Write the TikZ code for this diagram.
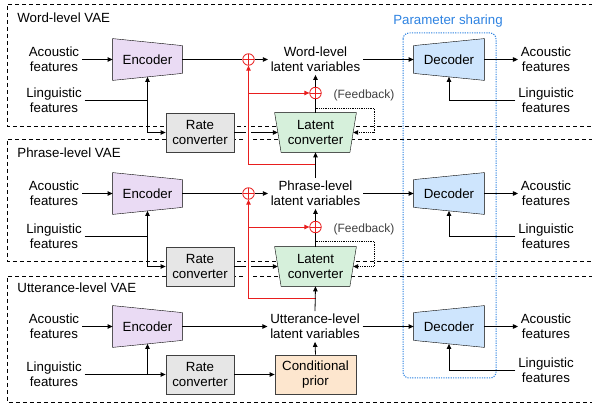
\documentclass[tikz,border=0pt]{standalone}
\usepackage{fontspec}
\setmainfont{Liberation Sans}
\usetikzlibrary{positioning,arrows.meta,backgrounds}

\definecolor{encfill}{RGB}{234,219,244}
\definecolor{decfill}{RGB}{206,229,253}
\definecolor{lcfill}{RGB}{214,240,219}
\definecolor{rcfill}{RGB}{230,230,230}
\definecolor{cpfill}{RGB}{253,230,206}
\definecolor{resred}{RGB}{232,30,30}
\definecolor{shareblue}{RGB}{45,130,225}

% trapezoid outlines, drawn behind the node text
\newcommand{\encpoly}[1]{\begin{scope}[on background layer]
  \filldraw[fill=encfill] (#1.north west) -- ([yshift=-7pt]#1.north east) -- ([yshift=7pt]#1.south east) -- (#1.south west) -- cycle;
\end{scope}}
\newcommand{\decpoly}[1]{\begin{scope}[on background layer]
  \filldraw[fill=decfill] ([yshift=-7pt]#1.north west) -- (#1.north east) -- (#1.south east) -- ([yshift=7pt]#1.south west) -- cycle;
\end{scope}}
\newcommand{\lcpoly}[1]{\begin{scope}[on background layer]
  \filldraw[fill=lcfill] (#1.north west) -- (#1.north east) -- ([xshift=-6.5pt]#1.south east) -- ([xshift=6.5pt]#1.south west) -- cycle;
\end{scope}}

\begin{document}
\begin{tikzpicture}[x=1pt,y=-1pt,on grid,font=\fontsize{13.3}{15.3}\selectfont,line width=0.8pt,
    >={Triangle[length=5pt,width=4.5pt]},
    txt/.style={align=center,inner sep=2.5pt},
    enc/.style={minimum width=69pt,minimum height=41pt,inner sep=0pt},
    dec/.style={minimum width=70pt,minimum height=41pt,inner sep=0pt},
    latent/.style={minimum width=81pt,minimum height=39pt,inner sep=0pt,align=center},
    rate/.style={draw=black!75,fill=rcfill,minimum width=68pt,minimum height=39pt,inner sep=0pt,align=center},
    prior/.style={draw=black!75,fill=cpfill,minimum width=81pt,minimum height=39pt,inner sep=0pt,align=center},
    plus/.style={circle,draw=resred,minimum size=11.5pt,inner sep=0pt,
      path picture={\draw[resred] (path picture bounding box.north) -- (path picture bounding box.south)
        (path picture bounding box.west) -- (path picture bounding box.east);}},
    resid/.style={draw=resred,->},
    feedback/.style={dash pattern=on 0.8pt off 1pt,line width=0.6pt,->},
    vae/.style={dash pattern=on 4pt off 3pt},
    share/.style={draw=shareblue,dash pattern=on 1.2pt off 1.2pt,line width=1pt,rounded corners=6pt}]
    \useasboundingbox (0,0) rectangle (592,403);
    \begin{scope}[on background layer]
        \draw[vae] (600,4) -| (7,126) -- (600,126);
        \draw[vae] (600,139) -| (7,261) -- (600,261);
        \draw[vae] (600,276) -| (7,402) -- (600,402);
    \end{scope}
    \draw[share] (403,33) rectangle (496,378);
    \node[text=shareblue] (psl) at (448,21) {Parameter sharing};

    % word level
    \node[anchor=west,inner sep=0pt] (t1) at (17,18) {Word-level VAE};
    \node[enc] (e1) at (147.5,59.5) {Encoder}; \encpoly{e1}
    \node[txt] (a1) [left=93.5pt of e1] {Acoustic\\features};
    \node[txt] (l1) [below=41pt of a1] {Linguistic\\features};
    \node[plus] (p1) [right=101pt of e1] {};
    \node[txt] (lv1) [right=67pt of p1] {Word-level\\latent variables};
    \node[plus] (p2) [below=33.5pt of lv1] {};
    \node[latent] (lc1) [below=73pt of lv1] {Latent\\converter}; \lcpoly{lc1}
    \node[rate] (rc1) [left=115.5pt of lc1] {Rate\\converter};
    \node[dec] (d1) [right=133.5pt of lv1] {Decoder}; \decpoly{d1}
    \node[txt] (ao1) [right=97pt of d1] {Acoustic\\features};
    \node[txt] (lo1) [below=41pt of ao1] {Linguistic\\features};
    \node[text=black!75,font=\fontsize{12}{14}\selectfont] (fl1) at (364,95) {(Feedback)};
    \coordinate (fbs1) at (315.5,108);
    \coordinate (fbc1) at (374,120);
    \coordinate (rj1) at (315.5,164);
    \coordinate (rb1) at (248.5,93);

    % phrase level
    \node[anchor=west,inner sep=0pt] (t2) at (17,153) {Phrase-level VAE};
    \node[enc] (e2) at (147.5,193.5) {Encoder}; \encpoly{e2}
    \node[txt] (a2) [left=93.5pt of e2] {Acoustic\\features};
    \node[txt] (l2) [below=42.5pt of a2] {Linguistic\\features};
    \node[plus] (p3) [right=101pt of e2] {};
    \node[txt] (lv2) [right=67pt of p3] {Phrase-level\\latent variables};
    \node[plus] (p4) [below=33.5pt of lv2] {};
    \node[latent] (lc2) [below=73pt of lv2] {Latent\\converter}; \lcpoly{lc2}
    \node[rate] (rc2) [left=115.5pt of lc2] {Rate\\converter};
    \node[dec] (d2) [right=133.5pt of lv2] {Decoder}; \decpoly{d2}
    \node[txt] (ao2) [right=97pt of d2] {Acoustic\\features};
    \node[txt] (lo2) [below=42.5pt of ao2] {Linguistic\\features};
    \node[text=black!75,font=\fontsize{12}{14}\selectfont] (fl2) at (364,229) {(Feedback)};
    \coordinate (fbs2) at (315.5,241);
    \coordinate (fbc2) at (374,254);
    \coordinate (rj2) at (315.5,298);
    \coordinate (rb2) at (248.5,227);

    % utterance level
    \node[anchor=west,inner sep=0pt] (t3) at (17,288) {Utterance-level VAE};
    \node[enc] (e3) at (147.5,326.5) {Encoder}; \encpoly{e3}
    \node[txt] (a3) [left=93.5pt of e3] {Acoustic\\features};
    \node[txt] (l3) [below=48pt of a3] {Linguistic\\features};
    \node[txt] (lv3) [right=167.5pt of e3] {Utterance-level\\latent variables};
    \node[rate] (rc3) [below right=48pt and 52.5pt of e3] {Rate\\converter};
    \node[prior] (cp) [right=115.5pt of rc3] {Conditional\\prior};
    \node[dec] (d3) [right=134pt of lv3] {Decoder}; \decpoly{d3}
    \node[txt] (ao3) [right=97pt of d3] {Acoustic\\features};
    \node[txt] (lo3) [below=43.5pt of ao3] {Linguistic\\features};

    % connectors
    \draw[->] (a1.east) -- (e1.west);
    \draw[->] (l1.east) -| ([yshift=3.5pt]e1.south);
    \draw[->] (l1.east -| e1.south) |- (rc1.west);
    \draw[->] (rc1.east) -- ([xshift=3.2pt]lc1.west);
    \draw (e1.east) -- (p1.west);
    \draw[->] (p1.east) -- (lv1.west);
    \draw (lc1.north) -- (p2.south);
    \draw[->] (p2.north) -- (lv1.south);
    \draw[->] (lv1.east) -- (d1.west);
    \draw[->] (d1.east) -- (ao1.west);
    \draw[->] (lo1.west) -| ([yshift=3.5pt]d1.south);
    \draw[feedback] (fbs1) -| (fbc1) |- ([xshift=-3.2pt]lc1.east);

    \draw[->] (a2.east) -- (e2.west);
    \draw[->] (l2.east) -| ([yshift=3.5pt]e2.south);
    \draw[->] (l2.east -| e2.south) |- (rc2.west);
    \draw[->] (rc2.east) -- ([xshift=3.2pt]lc2.west);
    \draw (e2.east) -- (p3.west);
    \draw[->] (p3.east) -- (lv2.west);
    \draw (lc2.north) -- (p4.south);
    \draw[->] (p4.north) -- (lv2.south);
    \draw[->] (lv2.east) -- (d2.west);
    \draw[->] (d2.east) -- (ao2.west);
    \draw[->] (lo2.west) -| ([yshift=3.5pt]d2.south);
    \draw[feedback] (fbs2) -| (fbc2) |- ([xshift=-3.2pt]lc2.east);

    \draw[->] (a3.east) -- (e3.west);
    \draw[->] (l3.east) -- (rc3.west);
    \draw[->] (l3.east -| e3.south) -- ([yshift=3.5pt]e3.south);
    \draw[->] (rc3.east) -- (cp.west);
    \draw[->] (e3.east) -- (lv3.west);
    \draw[->] (cp.north) -- (lv3.south);
    \draw[->] (lv3.east) -- (d3.west);
    \draw[->] (d3.east) -- (ao3.west);
    \draw[->] (lo3.west) -| ([yshift=3.5pt]d3.south);

    % residual paths
    \draw[draw=resred,preaction={draw=white,line width=5pt}] (rj1) -| (rb1);
    \draw[resid] (rb1) -- (p1.south);
    \draw[resid] (rb1) -- (p2.west);
    \draw[draw=resred,preaction={draw=white,line width=5pt}] (rj2) -| (rb2);
    \draw[resid] (rb2) -- (p3.south);
    \draw[resid] (rb2) -- (p4.west);
    \draw[->] (lv2.north) -- (lc1.south);
    \draw[->] (lv3.north) -- (lc2.south);
\end{tikzpicture}
\end{document}
